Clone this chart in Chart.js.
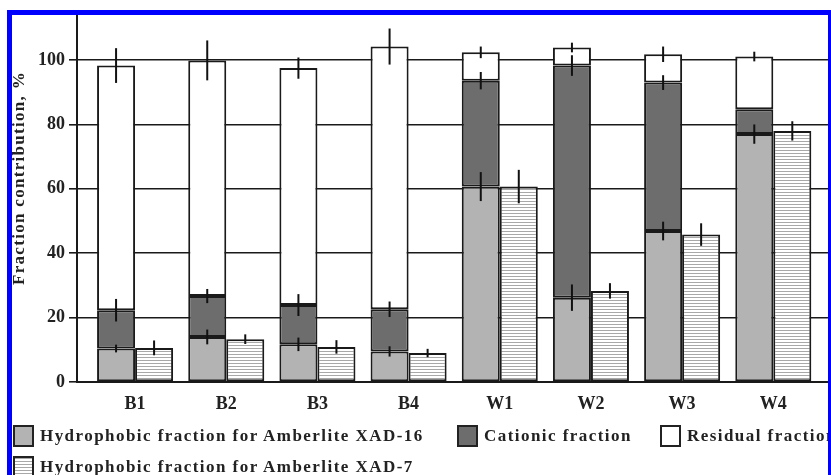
<!DOCTYPE html>
<html>
<head>
<meta charset="utf-8">
<script src="https://cdn.jsdelivr.net/npm/chart.js@4"></script>
<style>
  body { margin: 0; width: 831px; height: 475px; overflow: hidden; background: #fff; position: relative;
         font-family: "Liberation Serif", "Times New Roman", serif; color: #222; }
  #chart { position: absolute; left: 0; top: 0; }
  #frame { position: absolute; left: 7px; top: 10px; width: 816px; height: 480px;
           border: 5px solid #0000ff; z-index: 5; pointer-events: none; }
  #ytitle { position: absolute; left: 19px; top: 178px; transform: translate(-50%, -50%) rotate(-90deg);
            white-space: nowrap; font-weight: bold; font-size: 17px; letter-spacing: 1.3px; }
  .box { position: absolute; width: 21px; height: 22px; box-sizing: border-box; border: 2px solid #222; }
  .lbl { position: absolute; white-space: nowrap; font-weight: bold; font-size: 17px; letter-spacing: 1.45px; line-height: 22px; }
</style>
</head>
<body>
<canvas id="chart" width="831" height="475"></canvas>
<div id="ytitle">Fraction contribution, %</div>
<div id="legend"></div>
<div id="frame"></div>
<script>
// values (cumulative stacks split into segments)
const categories = ["B1", "B2", "B3", "B4", "W1", "W2", "W3", "W4"];
const xad16 = [10.4, 14.0, 11.7, 9.5, 60.7, 26.2, 46.9, 77.0];
const cationic = [11.9, 12.7, 12.2, 13.1, 32.9, 72.1, 46.1, 7.7];
const residual = [76.0, 73.2, 73.6, 81.6, 8.8, 5.6, 8.8, 16.4];
const xad7 = [10.6, 13.3, 10.9, 9.0, 60.7, 28.3, 45.8, 78.0];

const xad16Err = [1.2, 2.3, 2.1, 1.6, 4.5, 4.1, 2.9, 3.0];
const cationicErr = [3.5, 2.2, 3.4, 2.4, 2.7, 3.2, 2.3, 0];
const residualErr = [5.4, 6.2, 3.3, 5.6, 1.8, 1.5, 2.4, 1.5];
const xad7Err = [2.3, 1.5, 2.1, 1.3, 5.2, 2.4, 3.5, 3.0];

const yTicks = [0, 20, 40, 60, 80, 100];

const legendNames = [
  "Hydrophobic fraction for Amberlite XAD-16",
  "Cationic fraction",
  "Residual fraction",
  "Hydrophobic fraction for Amberlite XAD-7"
];

// horizontal hatch for the XAD-7 bars
const hatchCanvas = document.createElement("canvas");
hatchCanvas.width = 4;
hatchCanvas.height = 3;
const hctx = hatchCanvas.getContext("2d");
hctx.fillStyle = "#ffffff";
hctx.fillRect(0, 0, 4, 3);
hctx.fillStyle = "#a8a8a8";
hctx.fillRect(0, 0, 4, 1);
const hatch = document.getElementById("chart").getContext("2d").createPattern(hatchCanvas, "repeat");

const toPoints = arr => arr.map((v, i) => ({ x: i, y: v }));

const barStyle = { borderColor: "#1a1a1a", borderWidth: 2, borderSkipped: false };

// legend (html, clipped by the frame like the original)
const legendItems = [
  { left: 13, top: 425, fill: "#b3b3b3", text: legendNames[0] },
  { left: 457, top: 425, fill: "#6d6d6d", text: legendNames[1] },
  { left: 660, top: 425, fill: "#ffffff", text: legendNames[2] },
  { left: 13, top: 456, fill: "repeating-linear-gradient(#a8a8a8 0 1px, #fff 1px 3px)", text: legendNames[3] }
];
const legend = document.getElementById("legend");
legendItems.forEach(item => {
  const box = document.createElement("div");
  box.className = "box";
  box.style.left = item.left + "px";
  box.style.top = item.top + "px";
  box.style.background = item.fill;
  legend.appendChild(box);
  const lbl = document.createElement("div");
  lbl.className = "lbl";
  lbl.style.left = (item.left + 27) + "px";
  lbl.style.top = item.top + "px";
  lbl.textContent = item.text;
  legend.appendChild(lbl);
});

// vertical error lines through the top of each segment
const errorBars = {
  id: "errorBars",
  afterDatasetsDraw(chart) {
    const ctx = chart.ctx;
    const yScale = chart.scales.y;
    const unit = yScale.getPixelForValue(0) - yScale.getPixelForValue(1);
    ctx.save();
    ctx.strokeStyle = "#111";
    ctx.lineWidth = 2;
    chart.data.datasets.forEach((ds, i) => {
      const meta = chart.getDatasetMeta(i);
      meta.data.forEach((bar, j) => {
        const e = ds.errors[j];
        if (!e) return;
        ctx.beginPath();
        ctx.moveTo(bar.x, bar.y - e * unit);
        ctx.lineTo(bar.x, bar.y + e * unit);
        ctx.stroke();
      });
    });
    ctx.restore();
  }
};

new Chart(document.getElementById("chart"), {
  type: "bar",
  data: {
    datasets: [
      { label: legendNames[0], data: toPoints(xad16), errors: xad16Err, backgroundColor: "#b3b3b3", stack: "a", ...barStyle },
      { label: legendNames[1], data: toPoints(cationic), errors: cationicErr, backgroundColor: "#6d6d6d", stack: "a", ...barStyle },
      { label: legendNames[2], data: toPoints(residual), errors: residualErr, backgroundColor: "#ffffff", stack: "a", ...barStyle },
      { label: legendNames[3], data: toPoints(xad7), errors: xad7Err, backgroundColor: hatch, stack: "b", ...barStyle }
    ]
  },
  options: {
    responsive: false,
    animation: false,
    categoryPercentage: 0.834,
    barPercentage: 1,
    layout: { padding: { top: 15, right: 3, left: 0, bottom: 63 } },
    plugins: { legend: { display: false }, tooltip: { enabled: false } },
    scales: {
      x: {
        type: "linear",
        stacked: true,
        offset: false,
        min: -0.637,
        max: 7.6,
        afterFit(scale) { scale.height = 30; },
        afterBuildTicks(scale) { scale.ticks = categories.map((_, i) => ({ value: i })); },
        grid: { display: false, drawTicks: false, tickLength: 0 },
        border: { color: "#1a1a1a", width: 2 },
        ticks: {
          autoSkip: false,
          maxRotation: 0,
          padding: 12,
          color: "#222",
          font: { family: "Liberation Serif", size: 18, weight: "bold" },
          callback: v => categories[v]
        }
      },
      y: {
        stacked: true,
        min: 0,
        max: 114,
        afterFit(scale) { scale.width = 77; },
        afterBuildTicks(scale) { scale.ticks = yTicks.map(v => ({ value: v })); },
        grid: { color: "#1a1a1a", lineWidth: 1.6, tickLength: 8 },
        border: { color: "#1a1a1a", width: 2 },
        ticks: {
          padding: 4,
          color: "#222",
          font: { family: "Liberation Serif", size: 18, weight: "bold" }
        }
      }
    }
  },
  plugins: [errorBars]
});
</script>
</body>
</html>
